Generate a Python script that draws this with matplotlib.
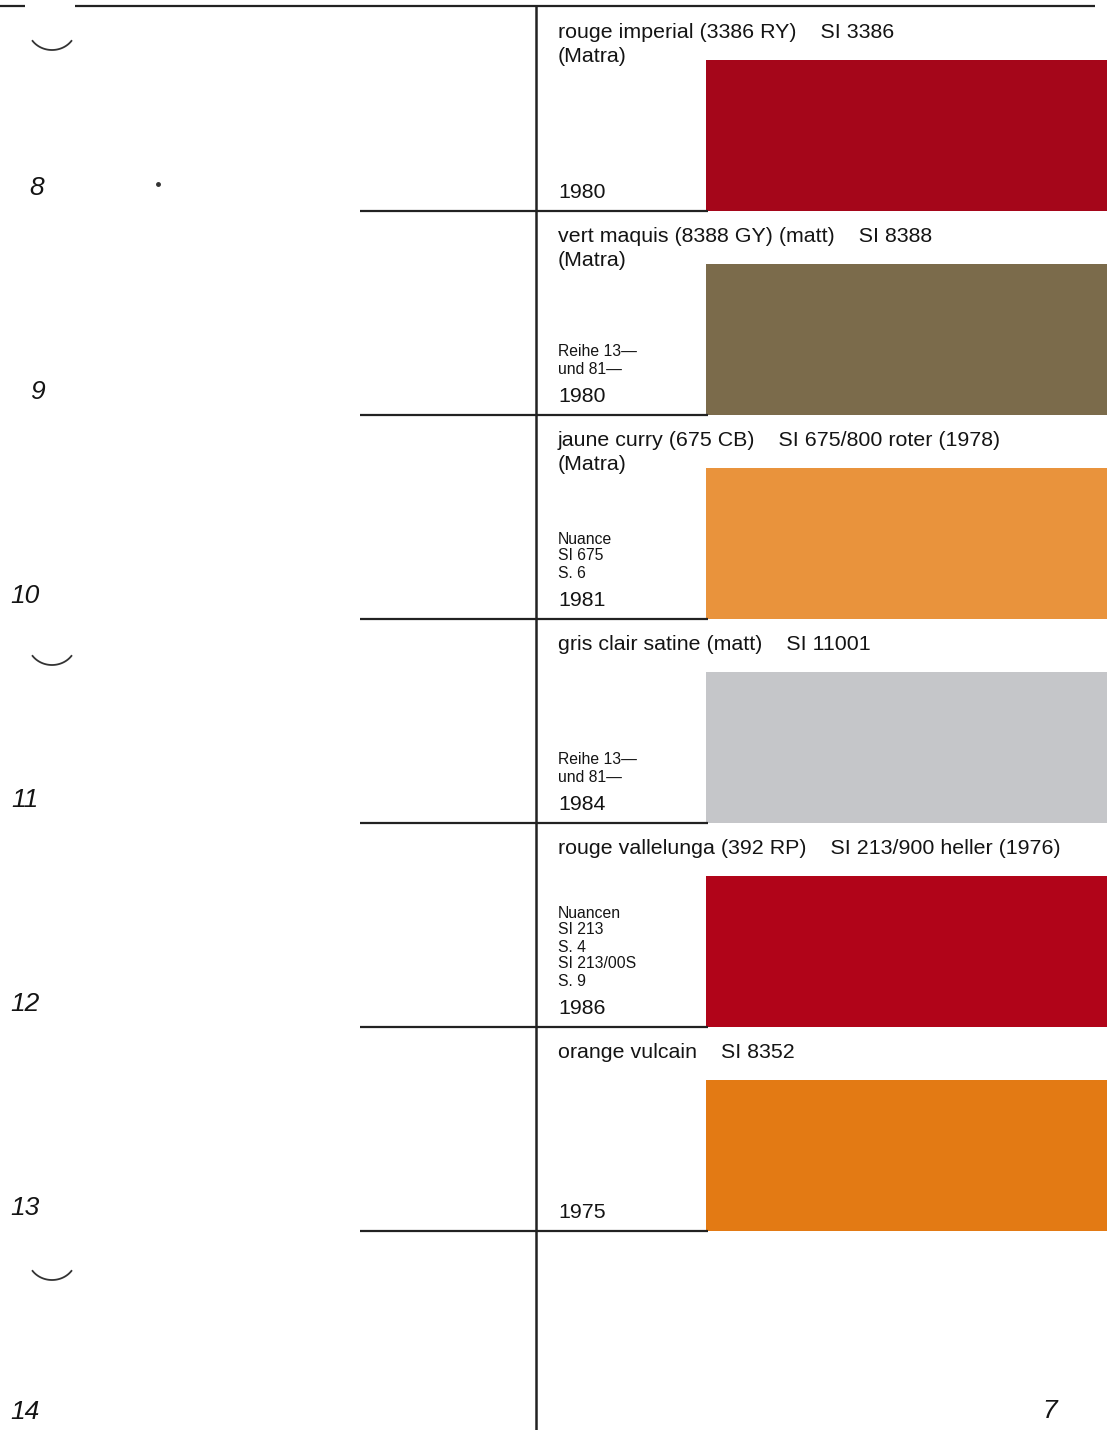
import numpy as np
import matplotlib
matplotlib.use("Agg")
import matplotlib.pyplot as plt

# 색상 견본 데이터
names = ["rouge imperial (3386 RY)    SI 3386",
         "vert maquis (8388 GY) (matt)    SI 8388",
         "jaune curry (675 CB)    SI 675/800 roter (1978)",
         "gris clair satine (matt)    SI 11001",
         "rouge vallelunga (392 RP)    SI 213/900 heller (1976)",
         "orange vulcain    SI 8352"]
makers = ["(Matra)", "(Matra)", "(Matra)", "", "", ""]
notes = [[],
         ["Reihe 13—", "und 81—"],
         ["Nuance", "SI 675", "S. 6"],
         ["Reihe 13—", "und 81—"],
         ["Nuancen", "SI 213", "S. 4", "SI 213/00S", "S. 9"],
         []]
years = ["1980", "1980", "1981", "1984", "1986", "1975"]
colors = ["#a5061a", "#7b6b4b", "#e9933c", "#c5c6c9", "#b10419", "#e37a14"]
margin_numbers = ["8", "9", "10", "11", "12", "13", "14"]
page_number = "7"

plt.rcParams['font.family'] = ['Liberation Sans', 'DejaVu Sans']

W, H = 1107, 1430
fig = plt.figure(figsize=(W / 100, H / 100), dpi=100)
ax = fig.add_axes([0, 0, 1, 1])
ax.set_xlim(0, W)
ax.set_ylim(H, 0)
ax.axis('off')

row_h = 204
first_sep = 211
sw_h = 151
sw_left = 706
text_x = 558
ink = '#141414'

seps = first_sep + row_h * np.arange(len(names))

# 견본 막대
ax.barh(seps - sw_h / 2, W - sw_left, left=sw_left, height=sw_h,
        color=colors, edgecolor='none')

# 구분선
ax.hlines(seps, 360, sw_left + 2, color='#222222', lw=1.6)
ax.vlines(536, 6, H, color='#222222', lw=1.8)
ax.hlines([6, 6], [0, 75], [25, 1095], color='#222222', lw=1.6)

for i, s in enumerate(seps):
    ax.text(text_x, s - 178, names[i], fontsize=15.4, va='center', ha='left', color=ink)
    if makers[i]:
        ax.text(text_x, s - 155, makers[i], fontsize=15.4, va='center', ha='left', color=ink)
    ax.text(text_x, s - 18, years[i], fontsize=15.4, va='center', ha='left', color=ink)
    n = len(notes[i])
    for j, line in enumerate(notes[i]):
        ax.text(text_x, s - 46 - 17 * (n - 1 - j), line, fontsize=11.3,
                va='center', ha='left', color=ink)

# 여백 번호
for k, num in enumerate(margin_numbers):
    x = 37 if len(num) == 1 else 25
    ax.text(x, 188 + row_h * k, num, fontsize=19, style='italic',
            va='center', ha='center', color=ink)
ax.text(1050, 1411, page_number, fontsize=19, style='italic',
        va='center', ha='center', color=ink)

# 구멍 자국
t = np.linspace(0.2 * np.pi, 0.8 * np.pi, 50)
for cy in [28, 643, 1258]:
    ax.plot(52 + 24 * np.cos(t), cy + 22 * np.sin(t), color='#333333', lw=1.3)
ax.plot([158], [184], marker='o', ms=2.5, color='#333333')

fig.savefig("out.png", dpi=100)
